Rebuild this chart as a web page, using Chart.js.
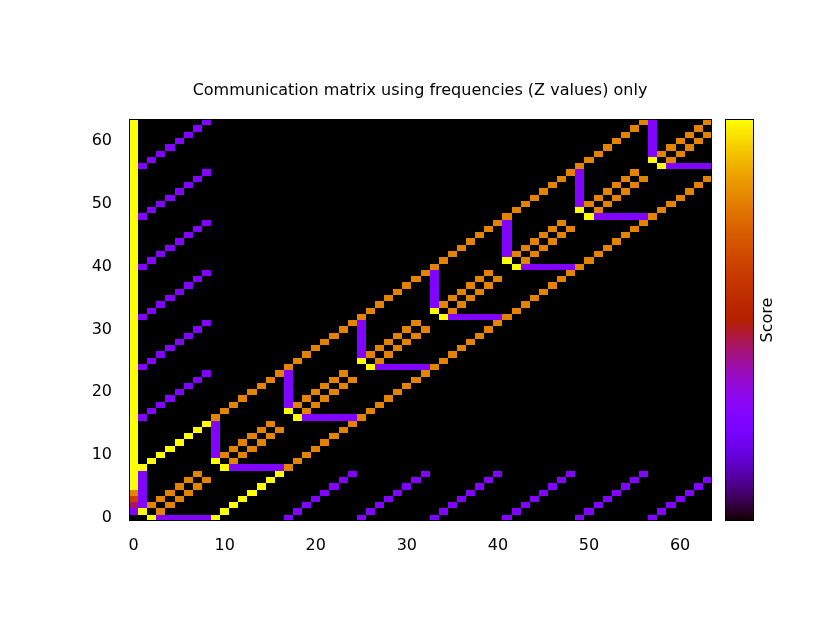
<!DOCTYPE html>
<html>
<head>
<meta charset="utf-8">
<title>Communication matrix</title>
<script src="https://cdn.jsdelivr.net/npm/chart.js@4.4.0/dist/chart.umd.min.js"></script>
<style>
  html, body { margin: 0; padding: 0; background: #ffffff; }
  canvas { display: block; }
</style>
</head>
<body>
<canvas id="matrixChart" width="840" height="640" style="width:840px;height:640px"></canvas>
<script>
// Tick labels on both axes
const xTickValues = [0, 10, 20, 30, 40, 50, 60];
const yTickValues = [0, 10, 20, 30, 40, 50, 60];

// Colour bar range (Z values)
const cbMin = 0;
const cbMax = 8;

// Z value for each letter used in the matrix rows
const levelValues = { '.': 0, p: 2, m: 3.5, r: 5, o: 6.4, y: 8 };

// Matrix, first string is y = 63, last is y = 0
// (groups of 8 columns, x = 0 .. 63 from left to right)
const matrixRows = [
  "y....... p....... ........ ........ ........ ........ ........ op.....o",
  "y......p ........ ........ ........ ........ ........ .......o .p....o.",
  "y.....p. ........ ........ ........ ........ ........ ......o. .p...o.o",
  "y....p.. ........ ........ ........ ........ ........ .....o.. .p..o.o.",
  "y...p... ........ ........ ........ ........ ........ ....o... .p.o.o..",
  "y..p.... ........ ........ ........ ........ ........ ...o.... .po.o...",
  "y.p..... ........ ........ ........ ........ ........ ..o..... .y.o....",
  "yp...... ........ ........ ........ ........ ........ .o...... ..yppppp",
  "y....... p....... ........ ........ ........ ........ op.....o ........",
  "y......p ........ ........ ........ ........ .......o .p....o. o......o",
  "y.....p. ........ ........ ........ ........ ......o. .p...o.o ......o.",
  "y....p.. ........ ........ ........ ........ .....o.. .p..o.o. .....o..",
  "y...p... ........ ........ ........ ........ ....o... .p.o.o.. ....o...",
  "y..p.... ........ ........ ........ ........ ...o.... .po.o... ...o....",
  "y.p..... ........ ........ ........ ........ ..o..... .y.o.... ..o.....",
  "yp...... ........ ........ ........ ........ .o...... ..yppppp po......",
  "y....... p....... ........ ........ ........ op.....o ........ o.......",
  "y......p ........ ........ ........ .......o .p....o. o......o ........",
  "y.....p. ........ ........ ........ ......o. .p...o.o ......o. ........",
  "y....p.. ........ ........ ........ .....o.. .p..o.o. .....o.. ........",
  "y...p... ........ ........ ........ ....o... .p.o.o.. ....o... ........",
  "y..p.... ........ ........ ........ ...o.... .po.o... ...o.... ........",
  "y.p..... ........ ........ ........ ..o..... .y.o.... ..o..... ........",
  "yp...... ........ ........ ........ .o...... ..yppppp po...... ........",
  "y....... p....... ........ ........ op.....o ........ o....... ........",
  "y......p ........ ........ .......o .p....o. o......o ........ ........",
  "y.....p. ........ ........ ......o. .p...o.o ......o. ........ ........",
  "y....p.. ........ ........ .....o.. .p..o.o. .....o.. ........ ........",
  "y...p... ........ ........ ....o... .p.o.o.. ....o... ........ ........",
  "y..p.... ........ ........ ...o.... .po.o... ...o.... ........ ........",
  "y.p..... ........ ........ ..o..... .y.o.... ..o..... ........ ........",
  "yp...... ........ ........ .o...... ..yppppp po...... ........ ........",
  "y....... p....... ........ op.....o ........ o....... ........ ........",
  "y......p ........ .......o .p....o. o......o ........ ........ ........",
  "y.....p. ........ ......o. .p...o.o ......o. ........ ........ ........",
  "y....p.. ........ .....o.. .p..o.o. .....o.. ........ ........ ........",
  "y...p... ........ ....o... .p.o.o.. ....o... ........ ........ ........",
  "y..p.... ........ ...o.... .po.o... ...o.... ........ ........ ........",
  "y.p..... ........ ..o..... .y.o.... ..o..... ........ ........ ........",
  "yp...... ........ .o...... ..yppppp po...... ........ ........ ........",
  "y....... p....... op.....o ........ o....... ........ ........ ........",
  "y......p .......o .p....o. o......o ........ ........ ........ ........",
  "y.....p. ......o. .p...o.o ......o. ........ ........ ........ ........",
  "y....p.. .....o.. .p..o.o. .....o.. ........ ........ ........ ........",
  "y...p... ....o... .p.o.o.. ....o... ........ ........ ........ ........",
  "y..p.... ...o.... .po.o... ...o.... ........ ........ ........ ........",
  "y.p..... ..o..... .y.o.... ..o..... ........ ........ ........ ........",
  "yp...... .o...... ..yppppp po...... ........ ........ ........ ........",
  "y....... yp.....o ........ o....... ........ ........ ........ ........",
  "y......y .p....o. o......o ........ ........ ........ ........ ........",
  "y.....y. .p...o.o ......o. ........ ........ ........ ........ ........",
  "y....y.. .p..o.o. .....o.. ........ ........ ........ ........ ........",
  "y...y... .p.o.o.. ....o... ........ ........ ........ ........ ........",
  "y..y.... .po.o... ...o.... ........ ........ ........ ........ ........",
  "y.y..... .y.o.... ..o..... ........ ........ ........ ........ ........",
  "yy...... ..yppppp po...... ........ ........ ........ ........ ........",
  "yp.....o ........ y....... p....... p....... p....... p....... p.......",
  "yp....o. o......y .......p .......p .......p .......p .......p .......p",
  "yp...o.o ......y. ......p. ......p. ......p. ......p. ......p. ......p.",
  "op..o.o. .....y.. .....p.. .....p.. .....p.. .....p.. .....p.. .....p..",
  "rp.o.o.. ....y... ....p... ....p... ....p... ....p... ....p... ....p...",
  "mpo.o... ...y.... ...p.... ...p.... ...p.... ...p.... ...p.... ...p....",
  "py.o.... ..y..... ..p..... ..p..... ..p..... ..p..... ..p..... ..p.....",
  "..yppppp py...... .p...... .p...... .p...... .p...... .p...... .p......"
];

// gnuplot default palette (rgbformulae 7,5,15)
function paletteColor(t) {
  t = Math.min(1, Math.max(0, t));
  const r = Math.sqrt(t);
  const g = t * t * t;
  const b = Math.max(0, Math.min(1, Math.sin(2 * Math.PI * t)));
  return 'rgb(' + Math.round(r * 255) + ',' + Math.round(g * 255) + ',' + Math.round(b * 255) + ')';
}

// Turn the rows into {x, y, v} cells
const cells = [];
matrixRows.forEach(function(row, i) {
  const yv = matrixRows.length - 1 - i;
  row.replace(/ /g, '').split('').forEach(function(ch, xv) {
    cells.push({ x: xv, y: yv, v: levelValues[ch] });
  });
});

const textFont = { family: "'DejaVu Sans', 'Liberation Sans', sans-serif", size: 16, weight: 'normal' };

// Draws each cell as a rectangle through the x/y scales, plus the colour bar
const heatmapPlugin = {
  id: 'heatmap',
  beforeDatasetsDraw(chart) {
    const ctx = chart.ctx;
    const xs = chart.scales.x;
    const ys = chart.scales.y;
    ctx.save();
    chart.data.datasets[0].data.forEach(function(p) {
      const x0 = Math.round(xs.getPixelForValue(p.x - 0.5));
      const x1 = Math.round(xs.getPixelForValue(p.x + 0.5));
      const y0 = Math.round(ys.getPixelForValue(p.y + 0.5));
      const y1 = Math.round(ys.getPixelForValue(p.y - 0.5));
      ctx.fillStyle = paletteColor((p.v - cbMin) / (cbMax - cbMin));
      ctx.fillRect(x0, y0, x1 - x0, y1 - y0);
    });
    ctx.restore();
  },
  afterDatasetsDraw(chart) {
    const ctx = chart.ctx;
    const area = chart.chartArea;
    const cb = chart.scales.cb;
    ctx.save();
    // plot border
    ctx.strokeStyle = '#000';
    ctx.lineWidth = 1;
    ctx.strokeRect(Math.round(area.left) + 0.5, Math.round(area.top) + 0.5,
      Math.round(area.right - area.left) - 1, Math.round(area.bottom - area.top) - 1);

    // colour bar
    const barLeft = Math.round(area.right) + 13;
    const barWidth = 29;
    const top = Math.round(cb.getPixelForValue(cbMax));
    const bottom = Math.round(cb.getPixelForValue(cbMin));
    for (let py = top; py < bottom; py++) {
      const v = cb.getValueForPixel(py + 0.5);
      ctx.fillStyle = paletteColor((v - cbMin) / (cbMax - cbMin));
      ctx.fillRect(barLeft, py, barWidth, 1);
    }
    ctx.strokeRect(barLeft + 0.5, top + 0.5, barWidth - 1, bottom - top - 1);

    // colour bar label
    ctx.fillStyle = '#000';
    ctx.font = textFont.size + 'px ' + textFont.family;
    ctx.textAlign = 'center';
    ctx.textBaseline = 'middle';
    ctx.translate(barLeft + barWidth + 14, (top + bottom) / 2);
    ctx.rotate(-Math.PI / 2);
    ctx.fillText('Score', 0, 0);
    ctx.restore();
  }
};

Chart.defaults.color = '#000';

new Chart(document.getElementById('matrixChart'), {
  type: 'scatter',
  data: {
    datasets: [{
      label: 'Z',
      data: cells,
      pointRadius: 0,
      pointHoverRadius: 0
    }]
  },
  options: {
    responsive: false,
    devicePixelRatio: 1,
    animation: false,
    events: [],
    layout: { padding: 0 },
    plugins: {
      legend: { display: false },
      tooltip: { enabled: false },
      title: {
        display: true,
        text: 'Communication matrix using frequencies (Z values) only',
        color: '#000',
        font: textFont,
        padding: { top: 81, bottom: 19 }
      }
    },
    scales: {
      x: {
        type: 'linear',
        position: 'bottom',
        min: -0.5,
        max: 63.5,
        grid: { display: false, drawTicks: false },
        border: { display: false },
        afterBuildTicks: function(s) { s.ticks = xTickValues.map(function(v) { return { value: v }; }); },
        afterFit: function(s) { s.height = 119; },
        ticks: { font: textFont, color: '#000', padding: 15, maxRotation: 0, autoSkip: false }
      },
      y: {
        type: 'linear',
        position: 'left',
        min: -0.5,
        max: 63.5,
        grid: { display: false, drawTicks: false },
        border: { display: false },
        afterBuildTicks: function(s) { s.ticks = yTickValues.map(function(v) { return { value: v }; }); },
        afterFit: function(s) { s.width = 129; },
        ticks: { font: textFont, color: '#000', padding: 17, autoSkip: false }
      },
      cb: {
        type: 'linear',
        axis: 'y',
        position: 'right',
        min: cbMin,
        max: cbMax,
        grid: { display: false, drawTicks: false },
        border: { display: false },
        ticks: { display: false },
        afterFit: function(s) { s.width = 128; }
      }
    }
  },
  plugins: [heatmapPlugin]
});
</script>
</body>
</html>
